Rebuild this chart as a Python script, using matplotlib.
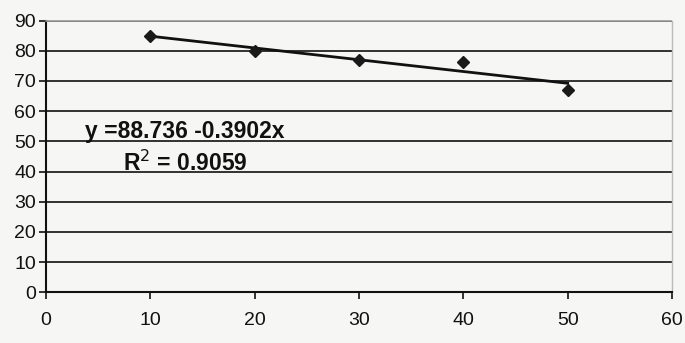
import matplotlib.pyplot as plt

# measurements and the fitted linear trend
x_vals = [10, 20, 30, 40, 50]
y_vals = [84.8, 80.0, 76.8, 76.4, 67.1]
intercept = 88.736
slope = -0.3902
r_squared = 0.9059

x_ticks = [0, 10, 20, 30, 40, 50, 60]
y_ticks = [0, 10, 20, 30, 40, 50, 60, 70, 80, 90]

plt.rcParams["font.family"] = ["Liberation Sans", "DejaVu Sans"]

fig = plt.figure(figsize=(6.85, 3.43), dpi=100, facecolor="#f6f6f4")
ax = fig.add_axes([0.067, 0.148, 0.914, 0.792])
ax.set_facecolor("#f6f6f4")

for y in y_ticks[1:]:
    ax.axhline(y, color="#111111", lw=1.2, zorder=1)

# trend line from the stated coefficients
trend_x = [x_vals[0], x_vals[-1]]
trend_y = [intercept + slope * v for v in trend_x]
ax.plot(trend_x, trend_y, color="#111111", lw=2.0, zorder=3)

ax.plot(x_vals, y_vals, linestyle="none", marker="D", markersize=6.5,
        color="#1a1a1a", zorder=4)

ax.set_xlim(0, 60)
ax.set_ylim(0, 90)
ax.set_xticks(x_ticks)
ax.set_yticks(y_ticks)
ax.tick_params(axis="both", labelsize=14, length=5, width=1.2,
               color="#111111", labelcolor="#111111")
ax.tick_params(axis="x", pad=9)
ax.tick_params(axis="y", pad=2)

for side in ("left", "bottom"):
    ax.spines[side].set_color("#111111")
    ax.spines[side].set_linewidth(1.5)
ax.spines["top"].set_color("#999999")
ax.spines["top"].set_linewidth(1.2)
ax.spines["top"].set_linestyle((0, (1, 1)))
ax.spines["right"].set_color("#bbbbbb")
ax.spines["right"].set_linewidth(1.0)

ax.text(13.3, 53.4, f"y ={intercept} {slope}x", fontsize=16.5,
        fontweight="bold", color="#111111", ha="center", va="center",
        zorder=5)
ax.text(13.3, 42.6, f"R$^2$ = {r_squared}", fontsize=16.5,
        fontweight="bold", color="#111111", ha="center", va="center",
        zorder=5)

fig.savefig("out.png", dpi=100, facecolor=fig.get_facecolor())
